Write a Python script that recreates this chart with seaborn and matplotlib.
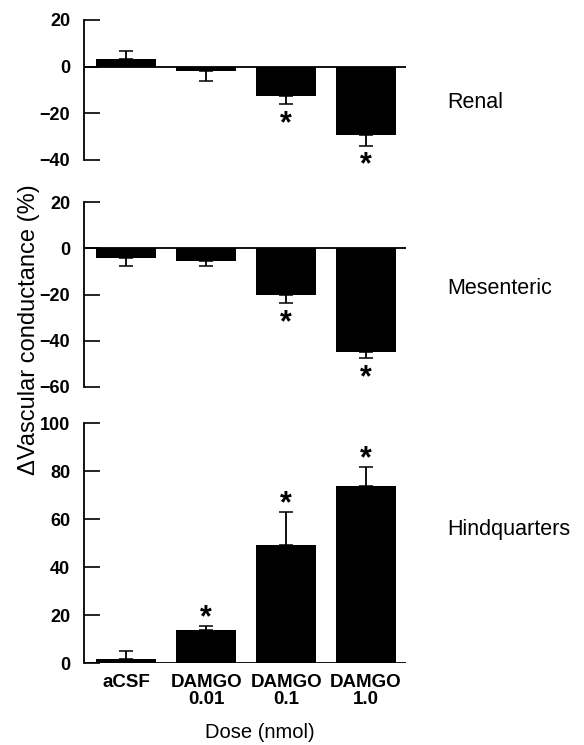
import matplotlib
matplotlib.use("Agg")
import matplotlib.pyplot as plt
import seaborn as sns
import numpy as np
import pandas as pd

categories = ['aCSF', 'DAMGO\n0.01', 'DAMGO\n0.1', 'DAMGO\n1.0']
renal = [3.3, -1.8, -12.5, -29.3]
renal_err = [3.6, 4.2, 3.7, 4.6]
mesenteric = [-4.3, -5.4, -20.0, -45.0]
mesenteric_err = [3.5, 2.4, 3.7, 2.6]
hindquarters = [1.7, 13.9, 49.5, 73.9]
hindquarters_err = [3.6, 1.8, 13.7, 8.1]
renal_sig = [False, False, True, True]
mesenteric_sig = [False, False, True, True]
hindquarters_sig = [False, True, True, True]
panel_names = ['Renal', 'Mesenteric', 'Hindquarters']
y_limits = [(-40, 20), (-60, 20), (0, 100)]
y_ticks = [[-40, -20, 0, 20], [-60, -40, -20, 0, 20], [0, 20, 40, 60, 80, 100]]

sns.set_theme(style="white")
plt.rcParams['font.family'] = ['Liberation Sans', 'DejaVu Sans']

W, H = 584, 745
fig = plt.figure(figsize=(W / 100, H / 100), dpi=100)

def frac_rect(x0, y_top, x1, y_bot):
    return [x0 / W, 1 - y_bot / H, (x1 - x0) / W, (y_bot - y_top) / H]

rects = [frac_rect(84, 20, 406, 160),
         frac_rect(84, 202.3, 406, 386.7),
         frac_rect(84, 423.3, 406, 663.3)]

panels = [(renal, renal_err, renal_sig),
          (mesenteric, mesenteric_err, mesenteric_sig),
          (hindquarters, hindquarters_err, hindquarters_sig)]

label_y = [103, 289, 530]

for i, ((vals, errs, sig), rect) in enumerate(zip(panels, rects)):
    ax = fig.add_axes(rect)
    df = pd.DataFrame({'dose': categories, 'value': vals})
    sns.barplot(data=df, x='dose', y='value', color='black', saturation=1,
                width=0.75, errorbar=None, ax=ax, edgecolor='none', linewidth=0)
    xs = np.arange(len(categories))
    v = np.array(vals)
    e = np.array(errs)
    lower = np.where(v < 0, e, 0)
    upper = np.where(v >= 0, e, 0)
    ax.errorbar(xs, v, yerr=[lower, upper], fmt='none', ecolor='black',
                elinewidth=1.3, capsize=4.7, capthick=1.1, zorder=3)
    for x, val, err, s in zip(xs, v, e, sig):
        if s:
            end = val + err if val >= 0 else val - err
            off = -5.5 if val >= 0 else -25
            ax.annotate('*', xy=(x, end), xytext=(0, off), textcoords='offset points',
                        ha='center', va='bottom', fontsize=22, fontweight='bold',
                        color='black')
    ax.axhline(0, color='black', lw=1.3, zorder=4)
    ax.set_xlim(-0.53, 3.5)
    ax.set_ylim(*y_limits[i])
    ax.set_yticks(y_ticks[i])
    for sp in ['top', 'right', 'bottom']:
        ax.spines[sp].set_visible(False)
    ax.spines['left'].set_color('black')
    ax.spines['left'].set_linewidth(1.3)
    ax.tick_params(axis='y', direction='in', length=11.5, width=1.2, pad=10,
                   labelsize=13, colors='black', left=True)
    for t in ax.get_yticklabels():
        t.set_fontweight('bold')
    ax.set_xlabel('')
    ax.set_ylabel('')
    if i < 2:
        ax.set_xticks([])
    else:
        ax.tick_params(axis='x', length=0, pad=8, labelsize=13.5, colors='black')
        for t in ax.get_xticklabels():
            t.set_fontweight('bold')
            t.set_linespacing(0.95)
    ax.set_facecolor('white')
    fig.text(447 / W, 1 - label_y[i] / H, panel_names[i], ha='left', va='center',
             fontsize=15.5, color='black')

fig.text(29 / W, 1 - 330 / H, 'ΔVascular conductance (%)', rotation=90,
         ha='center', va='center', fontsize=17, color='black')
fig.text(260 / W, 1 - 733 / H, 'Dose (nmol)', ha='center', va='center',
         fontsize=14.5, color='black')

fig.savefig('out.png', dpi=100, facecolor='white')
